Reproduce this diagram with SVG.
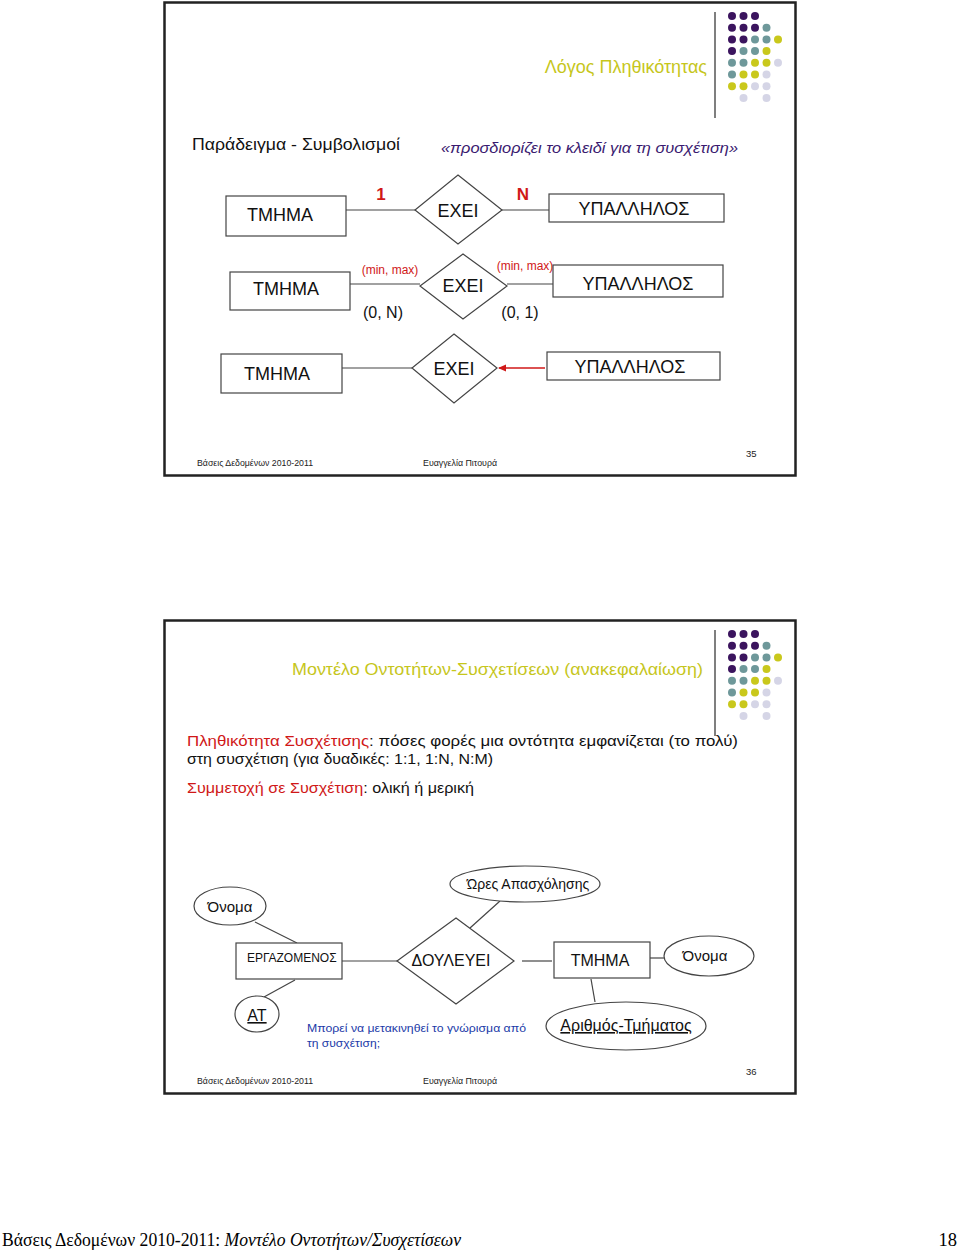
<svg xmlns="http://www.w3.org/2000/svg" width="960" height="1251" viewBox="0 0 960 1251">
<defs>
<style>
.frame{fill:#fff;stroke:#222;stroke-width:2.5}
.box{fill:#fff;stroke:#444;stroke-width:1.2}
.ln{stroke:#444;stroke-width:1.2;fill:none}
.t{font-family:"Liberation Sans",Arial,sans-serif;fill:#111}
.ttl{font-family:"Liberation Sans",Arial,sans-serif;fill:#c6c61c;font-size:18px}
.red{fill:#d01818}
.foot{font-family:"Liberation Sans",Arial,sans-serif;font-size:9.5px;fill:#222}
.p{fill:#3b145e}.c{fill:#6e989a}.y{fill:#c9c81c}.l{fill:#d5d5e6}
</style>
<marker id="ah" markerWidth="8" markerHeight="8" refX="7" refY="4" orient="auto" markerUnits="userSpaceOnUse">
<path d="M0,0.5 L8,4 L0,7.5 z" fill="#d01818"/>
</marker>
<g id="dots">
<circle class="p" cx="0" cy="0" r="4"/><circle class="p" cx="11.5" cy="0" r="4"/><circle class="p" cx="23" cy="0" r="4"/>
<circle class="p" cx="0" cy="11.7" r="4"/><circle class="p" cx="11.5" cy="11.7" r="4"/><circle class="p" cx="23" cy="11.7" r="4"/><circle class="c" cx="34.5" cy="11.7" r="4"/>
<circle class="p" cx="0" cy="23.4" r="4"/><circle class="p" cx="11.5" cy="23.4" r="4"/><circle class="c" cx="23" cy="23.4" r="4"/><circle class="c" cx="34.5" cy="23.4" r="4"/><circle class="y" cx="46" cy="23.4" r="4"/>
<circle class="p" cx="0" cy="35.1" r="4"/><circle class="c" cx="11.5" cy="35.1" r="4"/><circle class="c" cx="23" cy="35.1" r="4"/><circle class="y" cx="34.5" cy="35.1" r="4"/>
<circle class="c" cx="0" cy="46.8" r="4"/><circle class="c" cx="11.5" cy="46.8" r="4"/><circle class="y" cx="23" cy="46.8" r="4"/><circle class="y" cx="34.5" cy="46.8" r="4"/><circle class="l" cx="46" cy="46.8" r="4"/>
<circle class="c" cx="0" cy="58.5" r="4"/><circle class="y" cx="11.5" cy="58.5" r="4"/><circle class="y" cx="23" cy="58.5" r="4"/><circle class="l" cx="34.5" cy="58.5" r="4"/>
<circle class="y" cx="0" cy="70.2" r="4"/><circle class="y" cx="11.5" cy="70.2" r="4"/><circle class="l" cx="23" cy="70.2" r="4"/><circle class="l" cx="34.5" cy="70.2" r="4"/>
<circle class="l" cx="11.5" cy="81.9" r="4"/><circle class="l" cx="34.5" cy="81.9" r="4"/>
</g>
</defs>
<rect x="0" y="0" width="960" height="1251" fill="#fff"/>

<!-- Slide 1 -->
<g id="slide1">
<rect class="frame" x="164.5" y="2.5" width="631" height="473"/>
<use href="#dots" x="732" y="16"/>
<line x1="715" y1="12" x2="715" y2="118" stroke="#555" stroke-width="1.5"/>
<text class="ttl" x="707" y="73" text-anchor="end">Λόγος Πληθικότητας</text>
<text class="t" x="192" y="150" font-size="17" textLength="208" lengthAdjust="spacingAndGlyphs">Παράδειγμα - Συμβολισμοί</text>
<text class="t" x="441" y="153" font-size="15" font-style="italic" style="fill:#3a1a70" textLength="297" lengthAdjust="spacingAndGlyphs">«προσδιορίζει το κλειδί για τη συσχέτιση»</text>
<text class="foot" x="197" y="466" textLength="116" lengthAdjust="spacingAndGlyphs">Βάσεις Δεδομένων 2010-2011</text>
<text class="foot" x="423" y="466" textLength="74" lengthAdjust="spacingAndGlyphs">Ευαγγελία Πιτουρά</text>
<text class="foot" x="746" y="457">35</text>
</g>

<g id="connectors1">
<line class="ln" x1="346" y1="210" x2="415" y2="210"/>
<line class="ln" x1="502" y1="210" x2="549" y2="210"/>
<line class="ln" x1="350" y1="284" x2="420" y2="284"/>
<line class="ln" x1="507" y1="284" x2="553" y2="284"/>
<line class="ln" x1="342" y1="368" x2="412" y2="368"/>
<line x1="545" y1="368" x2="499" y2="368" stroke="#d01818" stroke-width="1.5" marker-end="url(#ah)"/>
</g>

<g id="r1-tmhma"><rect class="box" x="226" y="196" width="120" height="40"/><text class="t" x="280" y="221" font-size="18" text-anchor="middle">ΤΜΗΜΑ</text></g>
<g id="r1-card1"><text class="t red" x="381" y="200" font-size="17" font-weight="bold" text-anchor="middle">1</text></g>
<g id="r1-exei"><polygon class="box" points="458,175 502,210 458,244 415,210"/><text class="t" x="458" y="217" font-size="18" text-anchor="middle">ΕΧΕΙ</text></g>
<g id="r1-cardN"><text class="t red" x="523" y="200" font-size="17" font-weight="bold" text-anchor="middle">N</text></g>
<g id="r1-ypal"><rect class="box" x="549" y="194" width="175" height="28"/><text class="t" x="634" y="215" font-size="18" text-anchor="middle">ΥΠΑΛΛΗΛΟΣ</text></g>

<g id="r2-tmhma"><rect class="box" x="230" y="272" width="120" height="38"/><text class="t" x="286" y="295" font-size="18" text-anchor="middle">ΤΜΗΜΑ</text></g>
<g id="r2-mm1"><text class="t red" x="390" y="274" font-size="12" text-anchor="middle">(min, max)</text></g>
<g id="r2-exei"><polygon class="box" points="463,254 507,286 463,319 420,286"/><text class="t" x="463" y="292" font-size="18" text-anchor="middle">ΕΧΕΙ</text></g>
<g id="r2-mm2"><text class="t red" x="525" y="270" font-size="12" text-anchor="middle">(min, max)</text></g>
<g id="r2-0N"><text class="t" x="383" y="318" font-size="16" text-anchor="middle">(0, N)</text></g>
<g id="r2-01"><text class="t" x="520" y="318" font-size="16" text-anchor="middle">(0, 1)</text></g>
<g id="r2-ypal"><rect class="box" x="553" y="265" width="170" height="32"/><text class="t" x="638" y="290" font-size="18" text-anchor="middle">ΥΠΑΛΛΗΛΟΣ</text></g>

<g id="r3-tmhma"><rect class="box" x="221" y="354" width="121" height="39"/><text class="t" x="277" y="380" font-size="18" text-anchor="middle">ΤΜΗΜΑ</text></g>
<g id="r3-exei"><polygon class="box" points="454,334 497,368 454,403 412,368"/><text class="t" x="454" y="375" font-size="18" text-anchor="middle">ΕΧΕΙ</text></g>
<g id="r3-ypal"><rect class="box" x="547" y="352" width="173" height="28"/><text class="t" x="630" y="373" font-size="18" text-anchor="middle">ΥΠΑΛΛΗΛΟΣ</text></g>

<!-- Slide 2 -->
<g id="slide2">
<rect class="frame" x="164.5" y="620.5" width="631" height="473"/>
<use href="#dots" x="732" y="634"/>
<line x1="715" y1="630" x2="715" y2="736" stroke="#555" stroke-width="1.5"/>
<text class="ttl" x="292" y="675" style="font-size:17px" textLength="411" lengthAdjust="spacingAndGlyphs">Μοντέλο Οντοτήτων-Συσχετίσεων (ανακεφαλαίωση)</text>
<text class="t" x="187" y="746" font-size="14.5" textLength="551" lengthAdjust="spacingAndGlyphs"><tspan class="red">Πληθικότητα Συσχέτισης</tspan>: πόσες φορές μια οντότητα εμφανίζεται (το πολύ)</text>
<text class="t" x="187" y="764" font-size="14.5" textLength="306" lengthAdjust="spacingAndGlyphs">στη συσχέτιση (για δυαδικές: 1:1, 1:N, N:M)</text>
<text class="t" x="187" y="793" font-size="14.5" textLength="287" lengthAdjust="spacingAndGlyphs"><tspan class="red">Συμμετοχή σε Συσχέτιση</tspan>: ολική ή μερική</text>
<text class="t" x="307" y="1032" font-size="11.5" style="fill:#1b3aa8" textLength="219" lengthAdjust="spacingAndGlyphs">Μπορεί να μετακινηθεί το γνώρισμα από</text>
<text class="t" x="307" y="1047" font-size="11.5" style="fill:#1b3aa8" textLength="73" lengthAdjust="spacingAndGlyphs">τη συσχέτιση;</text>
<text class="foot" x="197" y="1084" textLength="116" lengthAdjust="spacingAndGlyphs">Βάσεις Δεδομένων 2010-2011</text>
<text class="foot" x="423" y="1084" textLength="74" lengthAdjust="spacingAndGlyphs">Ευαγγελία Πιτουρά</text>
<text class="foot" x="746" y="1075">36</text>
</g>

<g id="connectors2">
<line class="ln" x1="255" y1="922" x2="297" y2="943"/>
<line class="ln" x1="342" y1="961" x2="397" y2="961"/>
<line class="ln" x1="470" y1="928" x2="500" y2="901"/>
<line class="ln" x1="522" y1="961" x2="552" y2="961"/>
<line class="ln" x1="650" y1="958" x2="664" y2="958"/>
<line class="ln" x1="591" y1="979" x2="595" y2="1002"/>
<line class="ln" x1="295" y1="980" x2="264" y2="997"/>
</g>

<g id="e-onoma1"><ellipse class="box" cx="230" cy="906" rx="36" ry="19"/><text class="t" x="230" y="912" font-size="15" text-anchor="middle">Όνομα</text></g>
<g id="e-ores"><ellipse class="box" cx="525" cy="884" rx="75" ry="18"/><text class="t" x="528" y="889" font-size="14" text-anchor="middle">Ώρες Απασχόλησης</text></g>
<g id="n-ergaz"><rect class="box" x="236" y="943" width="106" height="36"/><text class="t" x="247" y="962" font-size="12">ΕΡΓΑΖΟΜΕΝΟΣ</text></g>
<g id="n-doul"><polygon class="box" points="456,918 514,961 456,1004 397,961"/><text class="t" x="451" y="966" font-size="16" text-anchor="middle">ΔΟΥΛΕΥΕΙ</text></g>
<g id="n-tmhma2"><rect class="box" x="554" y="942" width="96" height="36"/><text class="t" x="600" y="966" font-size="16" text-anchor="middle">ΤΜΗΜΑ</text></g>
<g id="e-onoma2"><ellipse class="box" cx="709" cy="956" rx="45" ry="20"/><text class="t" x="705" y="961" font-size="15" text-anchor="middle">Όνομα</text></g>
<g id="e-arith"><ellipse class="box" cx="626" cy="1026" rx="80" ry="24"/><text class="t" x="626" y="1031" font-size="16" text-anchor="middle" text-decoration="underline">Αριθμός-Τμήματος</text></g>
<g id="e-at"><ellipse class="box" cx="257" cy="1014" rx="22" ry="18"/><text class="t" x="257" y="1021" font-size="16" text-anchor="middle" text-decoration="underline">ΑΤ</text></g>

<g id="page-footer">
<text x="2" y="1246" font-family="'Liberation Serif','Times New Roman',serif" font-size="18" fill="#000" textLength="459" lengthAdjust="spacingAndGlyphs">Βάσεις Δεδομένων 2010-2011: <tspan font-style="italic">Μοντέλο Οντοτήτων/Συσχετίσεων</tspan></text>
<text x="957" y="1246" font-family="'Liberation Serif','Times New Roman',serif" font-size="18.5" fill="#000" text-anchor="end">18</text>
</g>
</svg>
